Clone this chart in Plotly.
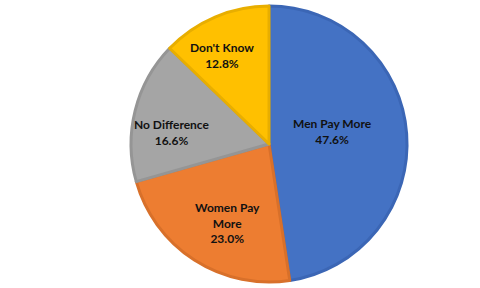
import math
import plotly.graph_objects as go

categories = ["Men Pay More", "Women Pay More", "No Difference", "Don't Know"]
display_labels = ["Men Pay More", "Women Pay<br>More", "No Difference", "Don't Know"]
values = [47.6, 23.0, 16.6, 12.8]
fill_colors = ["#4472C4", "#ED7D31", "#A5A5A5", "#FFC000"]
border_colors = ["#3B66B5", "#D8702A", "#959595", "#E8AE00"]

# label placement style (radius fraction, angular shift in degrees)
label_radius = [0.47, 0.67, 0.71, 0.75]
label_shift = [-7.0, -5.8, -6.7, -3.9]

W, H = 480, 288
M_T, M_B = 6, 6
dom_x = [0.273, 0.848]

fig = go.Figure(go.Pie(
    labels=categories,
    values=values,
    textinfo="none",
    sort=False,
    direction="clockwise",
    rotation=0,
    marker=dict(colors=fill_colors, line=dict(color=border_colors, width=3)),
    domain=dict(x=dom_x, y=[0, 1]),
    showlegend=False,
    hoverinfo="label+percent",
))

# label positions derived from slice mid-angles
total = sum(values)
cx_px = (dom_x[0] + dom_x[1]) / 2 * W
cy_px = M_T + (H - M_T - M_B) / 2
R = (H - M_T - M_B) / 2
cum = 0.0
annotations = []
for lab, v, f, s in zip(display_labels, values, label_radius, label_shift):
    mid = (cum + v / 2) / total * 360.0 + s
    cum += v
    th = math.radians(mid)
    px = cx_px + f * R * math.sin(th)
    py = cy_px - f * R * math.cos(th)
    annotations.append(dict(
        x=px / W, y=1 - py / H, xref="paper", yref="paper",
        text=f"<b>{lab}<br>{v:.1f}%</b>", showarrow=False,
        xanchor="center", yanchor="middle", align="center",
        font=dict(family="Lato", size=12, color="#111111"),
    ))

fig.update_layout(
    width=W, height=H,
    margin=dict(l=0, r=0, t=M_T, b=M_B),
    paper_bgcolor="white",
    plot_bgcolor="white",
    annotations=annotations,
)

fig.write_html("out.html")
